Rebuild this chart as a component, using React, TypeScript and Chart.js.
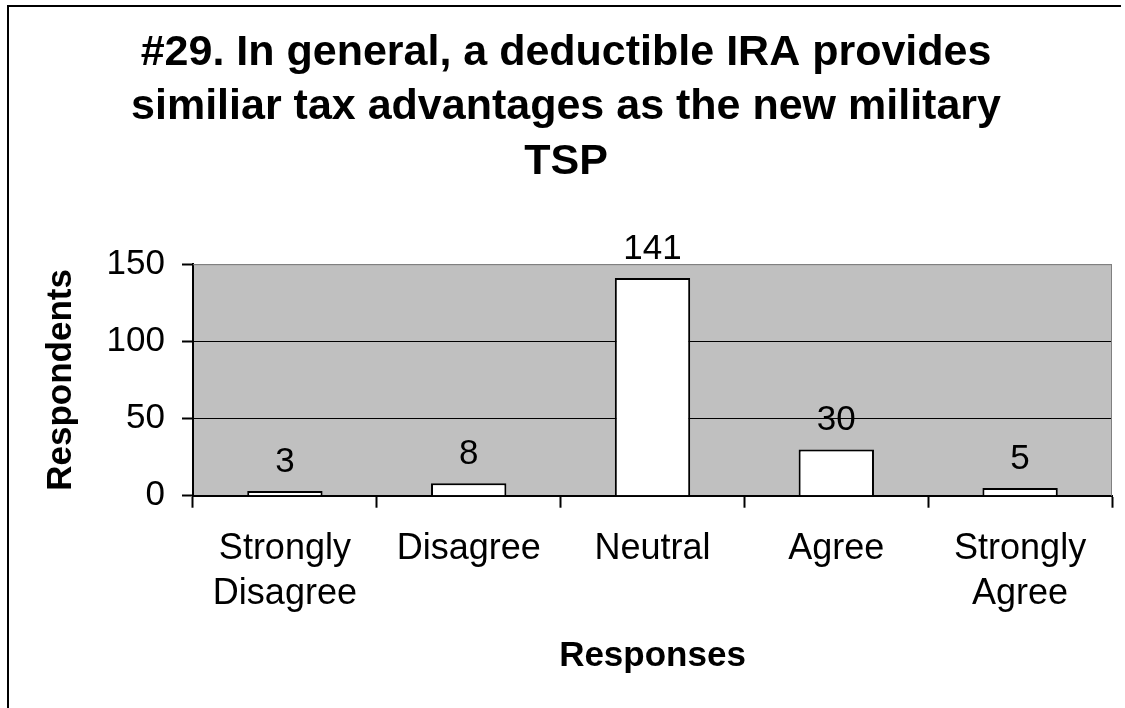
import React, { useEffect, useRef } from "react";
import { Chart, registerables } from "chart.js";

Chart.register(...registerables);

const categories: (string | string[])[] = [
  ["Strongly", "Disagree"],
  "Disagree",
  "Neutral",
  "Agree",
  ["Strongly", "Agree"],
];
const respondents: number[] = [3, 8, 141, 30, 5];
const yTicks: number[] = [0, 50, 100, 150];
const titleLines: string[] = [
  "#29. In general, a deductible IRA provides",
  "similiar tax advantages as the new military",
  "TSP",
];
const xTitle = "Responses";
const yTitle = "Respondents";

const FONT = "'Liberation Sans', Arial, Helvetica, sans-serif";

const plotBackground = {
  id: "plotBackground",
  beforeDraw(chart: any) {
    const { ctx, chartArea } = chart;
    ctx.save();
    ctx.fillStyle = "#C0C0C0";
    ctx.fillRect(chartArea.left, chartArea.top, chartArea.right - chartArea.left, chartArea.bottom - chartArea.top);
    ctx.restore();
  },
  beforeDatasetsDraw(chart: any) {
    const { ctx, chartArea } = chart;
    ctx.save();
    ctx.strokeStyle = "#808080";
    ctx.lineWidth = 1;
    ctx.beginPath();
    ctx.moveTo(chartArea.left, chartArea.top + 0.5);
    ctx.lineTo(chartArea.right - 0.5, chartArea.top + 0.5);
    ctx.lineTo(chartArea.right - 0.5, chartArea.bottom);
    ctx.stroke();
    ctx.restore();
  },
};

const valueLabels = {
  id: "valueLabels",
  afterDatasetsDraw(chart: any) {
    const { ctx } = chart;
    const meta = chart.getDatasetMeta(0);
    const data = chart.data.datasets[0].data as number[];
    ctx.save();
    ctx.fillStyle = "#000";
    ctx.font = `35px ${FONT}`;
    ctx.textAlign = "center";
    ctx.textBaseline = "alphabetic";
    meta.data.forEach((bar: any, i: number) => {
      ctx.fillText(String(data[i]), bar.x, bar.y - 19.5);
    });
    ctx.restore();
  },
};

export default function App() {
  const canvasRef = useRef<HTMLCanvasElement | null>(null);

  useEffect(() => {
    if (!canvasRef.current) return;
    Chart.defaults.font.family = FONT;
    const chart = new Chart(canvasRef.current, {
      type: "bar",
      data: {
        labels: categories,
        datasets: [
          {
            data: respondents,
            backgroundColor: "#FFFFFF",
            borderColor: "#000000",
            borderWidth: 2,
            barPercentage: 0.41,
            categoryPercentage: 1,
          },
        ],
      },
      options: {
        responsive: false,
        animation: false,
        devicePixelRatio: 1,
        layout: { padding: { left: 20, right: 13, top: 0, bottom: 21 } },
        plugins: {
          legend: { display: false },
          tooltip: { enabled: false },
          title: {
            display: true,
            text: titleLines,
            color: "#000",
            font: { size: 43, weight: "bold", family: FONT, lineHeight: 1.265 },
            padding: { top: 26, bottom: 75 },
          },
        },
        scales: {
          x: {
            grid: {
              display: true,
              drawOnChartArea: false,
              drawTicks: true,
              tickLength: 12,
              tickColor: "#000",
              tickWidth: 2,
              offset: true,
            },
            border: { display: true, color: "#000", width: 2 },
            ticks: {
              color: "#000",
              font: { size: 36, family: FONT, lineHeight: 1.24 },
              padding: 19,
              maxRotation: 0,
              minRotation: 0,
              autoSkip: false,
            },
            title: {
              display: true,
              text: xTitle,
              color: "#000",
              font: { size: 35, weight: "bold", family: FONT, lineHeight: 1.2 },
              padding: { top: 0, bottom: 10 },
            },
          },
          y: {
            min: yTicks[0],
            max: yTicks[yTicks.length - 1],
            afterBuildTicks: (scale: any) => {
              scale.ticks = yTicks.map((v) => ({ value: v }));
            },
            afterFit: (scale: any) => {
              scale.width = 173;
            },
            grid: {
              color: (ctx: any) => (ctx.tick && ctx.tick.value === 150 ? "#808080" : "#000"),
              lineWidth: 1,
              drawTicks: true,
              tickLength: 11,
              tickColor: "#000",
              tickWidth: 2,
            },
            border: { display: true, color: "#000", width: 2 },
            ticks: {
              color: "#000",
              font: { size: 35, family: FONT },
              padding: 17,
            },
            title: {
              display: true,
              text: yTitle,
              color: "#000",
              font: { size: 35, weight: "bold", family: FONT, lineHeight: 1.2 },
              padding: { top: 20, bottom: 0 },
            },
          },
        },
      },
      plugins: [plotBackground, valueLabels],
    });
    return () => chart.destroy();
  }, []);

  return (
    <div style={{ position: "absolute", left: 0, top: 0, width: 1125, height: 708, background: "#fff", overflow: "hidden" }}>
      <canvas ref={canvasRef} width={1125} height={708} style={{ display: "block", width: 1125, height: 708 }} />
      <div
        style={{
          position: "absolute",
          left: 7,
          top: 5,
          width: 1114,
          height: 710,
          borderTop: "2px solid #000",
          borderLeft: "2px solid #000",
          boxSizing: "border-box",
          pointerEvents: "none",
        }}
      />
    </div>
  );
}
